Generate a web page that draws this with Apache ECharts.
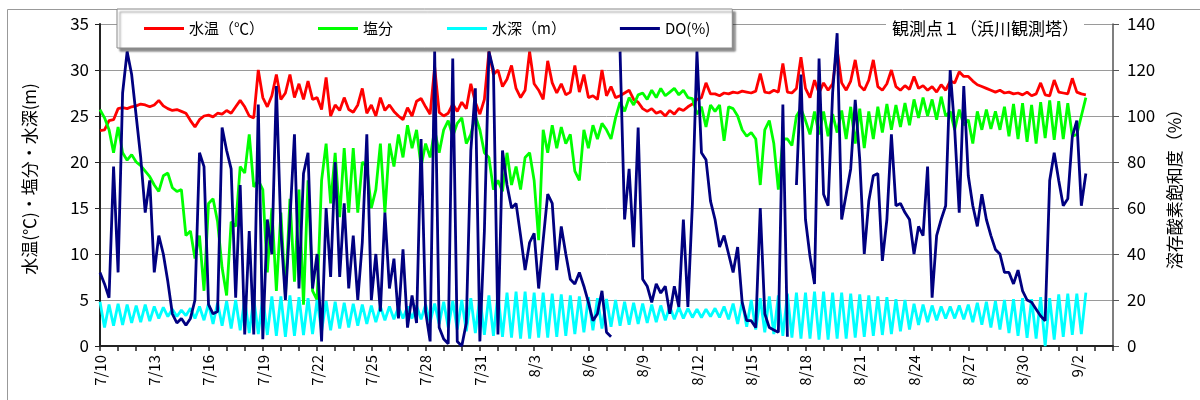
<!DOCTYPE html>
<html>
<head>
<meta charset="utf-8">
<title>観測点1（浜川観測塔）</title>
<script src="https://cdn.jsdelivr.net/npm/echarts@6/dist/echarts.min.js"></script>
<style>
  html, body { margin: 0; padding: 0; background: #fff; }
  #chart { width: 1200px; height: 400px; }
</style>
</head>
<body>
<div id="chart"></div>
<script>
// 7/10 0時から6時間ごとの値（1行 = 1日分）
const STEP = 0.25
const dateLabels = ['7/10', '7/13', '7/16', '7/19', '7/22', '7/25', '7/28', '7/31', '8/3', '8/6',
    '8/9', '8/12', '8/15', '8/18', '8/21', '8/24', '8/27', '8/30', '9/2']

// 水温(℃)
const waterTemp = [
    23.4, 23.5, 24.5, 24.6,  25.8, 25.9, 25.8, 26.0,  26.1, 26.3, 26.2, 26.0,  26.2, 26.7, 26.1, 25.8,
    25.6, 25.7, 25.5, 25.3,  24.5, 23.8, 24.6, 25.0,  25.1, 24.9, 25.3, 25.2,  25.6, 25.3, 26.0, 26.7,
    26.0, 25.0, 24.8, 30.0,  27.0, 26.0, 27.2, 29.5,  26.8, 27.5, 29.5, 27.0,  28.5, 26.8, 28.8, 26.8,
    27.0, 25.7, 29.2, 25.0,  26.2, 25.6, 27.0, 25.7,  25.4, 26.2, 28.0, 25.3,  26.2, 25.0, 27.0, 25.6,
    26.2, 25.5, 25.0, 24.6,  25.9, 25.0, 26.6, 26.9,  26.0, 25.2, 30.3, 25.4,  25.0, 25.3, 26.3, 25.5,
    26.5, 25.8, 28.5, 26.5,  25.2, 26.8, 32.0, 29.5,  30.0, 28.2, 29.0, 30.5,  28.0, 27.0, 27.8, 32.0,
    28.5, 27.8, 26.8, 31.0,  28.6, 27.5, 28.5, 27.3,  27.6, 30.5, 27.6, 29.5,  27.0, 27.2, 26.8, 30.0,
    27.2, 28.2, 27.0, 27.2,  27.5, 27.8, 26.8, 26.5,  25.8, 25.5, 25.8, 25.3,  25.5, 25.0, 25.6, 25.2,
    25.8, 25.6, 26.0, 26.3,  26.8, 27.0, 28.6, 27.4,  27.4, 27.2, 27.5, 27.4,  27.6, 27.5, 27.7, 27.6,
    27.5, 27.7, 29.6, 27.6,  27.5, 27.8, 27.6, 30.7,  27.6, 27.5, 28.0, 31.4,  28.0, 27.0, 28.9, 27.5,
    28.6, 27.8, 28.5, 32.2,  28.6, 27.8, 28.8, 31.1,  28.3, 27.8, 28.9, 31.1,  28.2, 27.8, 28.5, 30.0,
    28.2, 27.8, 28.3, 27.9,  29.3, 28.0, 28.3, 27.8,  28.2, 27.6, 28.4, 27.8,  28.8, 28.6, 29.8, 29.3,
    29.3, 28.8, 28.4, 28.2,  28.0, 27.8, 27.6, 27.8,  27.5, 27.6, 27.4, 27.5,  27.3, 27.6, 27.2, 27.4,
    28.6, 27.3, 27.2, 28.9,  27.6, 27.5, 27.4, 29.1,  27.6, 27.4, 27.3
]

// 塩分
const salinity = [
    25.7, 24.8, 23.5, 21.0,  23.8, 21.0, 20.2, 20.8,  20.0, 19.6, 19.0, 18.4,  17.5, 16.8, 18.5, 18.8,
    17.2, 16.8, 17.0, 12.0,  12.5, 9.5, 12.0, 6.0,   15.5, 16.0, 13.5, 8.5,   5.5, 13.5, 13.0, 19.5,
    18.8, 23.0, 17.3, 18.0,  17.0, 8.0, 15.0, 6.0,   14.5, 5.5, 16.0, 7.0,   17.0, 4.5, 18.0, 6.0,
    5.0, 18.0, 22.0, 15.5,   21.0, 14.0, 21.5, 14.5,  21.5, 14.5, 20.0, 19.5,  15.0, 17.0, 22.0, 14.5,
    22.0, 19.5, 23.0, 20.5,  24.0, 21.5, 23.5, 19.5,  22.0, 20.5, 23.5, 21.0,  23.5, 24.5, 22.8, 24.2,
    24.8, 22.0, 23.0, 25.0,  23.5, 21.0, 20.5, 17.0,  18.0, 16.8, 21.0, 17.5,  19.5, 17.0, 20.5, 21.0,
    18.0, 11.5, 23.5, 21.0,  24.0, 21.5, 23.8, 22.0,  23.0, 19.0, 18.0, 23.5,  21.5, 24.0, 22.5, 24.2,
    23.5, 22.5, 24.8, 26.5,  25.5, 27.0, 26.2, 27.3,  27.5, 26.8, 27.8, 27.0,  28.0, 27.2, 27.6, 28.0,
    27.3, 27.8, 27.0, 26.9,  25.2, 26.0, 23.8, 26.2,  25.5, 26.2, 22.3, 26.0,  25.8, 25.0, 23.5, 22.8,
    23.2, 22.5, 17.5, 23.5,  24.5, 22.0, 17.0, 22.5,  22.5, 21.8, 25.0, 25.8,  24.5, 23.0, 25.5, 23.0,
    25.5, 22.8, 25.2, 23.2,  25.6, 22.5, 26.0, 22.0,  25.8, 21.5, 25.5, 22.5,  26.0, 23.2, 26.3, 23.5,
    26.2, 23.8, 26.4, 24.0,  26.8, 24.8, 27.0, 25.0,  26.8, 24.6, 27.1, 25.0,  25.5, 23.5, 25.7, 24.0,
    24.6, 22.0, 25.5, 23.5,  25.7, 23.6, 25.5, 23.5,  26.0, 22.8, 26.3, 22.5,  26.4, 22.2, 26.2, 22.0,
    26.5, 22.6, 26.7, 22.4,  26.6, 22.5, 26.4, 22.8,  23.0, 25.0, 27.0
]

// 水深(m)
const depth = [
    4.8, 2.0, 4.5, 2.2,  4.6, 2.3, 4.5, 2.5,  4.4, 2.6, 4.5, 2.7,  4.3, 3.0, 4.2, 3.2,
    4.0, 3.2, 3.9, 3.3,  4.1, 3.0, 4.3, 2.8,  4.6, 2.4, 4.7, 2.2,  4.9, 1.9, 5.0, 1.7,
    5.1, 1.4, 5.2, 1.3,  5.3, 1.2, 5.4, 1.1,  5.4, 1.0, 5.5, 1.1,  5.3, 1.2, 5.2, 1.3,
    5.0, 1.6, 4.9, 1.7,  4.8, 1.9, 4.7, 2.0,  4.6, 2.2, 4.5, 2.4,  4.4, 2.6, 4.3, 2.8,
    4.3, 2.9, 4.2, 3.0,  4.3, 3.0, 4.4, 2.9,  4.5, 2.6, 4.6, 2.4,  4.8, 2.0, 4.9, 1.8,
    5.0, 1.6, 5.2, 1.4,  5.4, 1.2, 5.5, 1.1,  5.7, 1.0, 5.8, 0.9,  5.9, 0.8, 5.9, 0.8,
    5.8, 0.9, 5.8, 0.9,  5.7, 1.0, 5.6, 1.1,  5.5, 1.3, 5.4, 1.5,  5.3, 1.7, 5.2, 1.9,
    5.1, 2.1, 5.0, 2.2,  4.8, 2.3, 4.7, 2.4,  4.6, 2.5, 4.5, 2.6,  4.4, 2.8, 4.3, 2.9,
    4.2, 3.0, 4.1, 3.1,  4.0, 3.1, 4.0, 3.2,  4.1, 3.1, 4.3, 2.9,  4.6, 2.4, 4.8, 2.1,
    5.0, 1.8, 5.2, 1.5,  5.4, 1.3, 5.5, 1.1,  5.7, 0.9, 5.8, 0.8,  5.8, 0.8, 5.9, 0.7,
    5.9, 0.7, 5.8, 0.8,  5.8, 0.8, 5.7, 0.9,  5.6, 1.0, 5.5, 1.1,  5.4, 1.2, 5.3, 1.3,
    5.1, 1.6, 5.0, 1.8,  4.6, 2.3, 4.5, 2.6,  4.4, 2.8, 4.3, 3.0,  4.3, 3.0, 4.4, 2.9,
    4.5, 2.6, 4.7, 2.3,  4.8, 2.0, 4.9, 1.8,  5.0, 1.4, 5.1, 1.1,  5.2, 0.9, 5.1, 0.8,
    5.3, 0.0, 5.2, 0.7,  5.6, 1.0, 5.7, 1.2,  5.7, 1.3, 5.8
]

// DO(%) 溶存酸素飽和度、null は欠測
const doSat = [
    32, 27, 21, 78,    32, 110, 128, 118,  100, 82, 58, 72,   32, 48, 40, 28,
    14, 10, 12, 9,     12, 20, 84, 78,     18, 14, 15, 95,    85, 77, 21, 70,
    5, 50, 5, 105,     3, 55, 40, 113,     50, 20, 55, 92,    25, 75, 84, 25,
    40, 2, 60, 30,     80, 30, 62, 25,     48, 20, 45, 92,    20, 40, 15, 58,
    25, 38, 12, 42,    8, 22, 10, 90,      15, 2, 128, 8,     3, 1, 125, 2,
    0, 10, 85, 112,    2, 50, 128, 120,    5, 85, 70, 60,     62, 48, 33, 45,
    49, 25, 46, 66,    62, 33, 52, 40,     29, 27, 32, 26,    19, 11, 14, 24,
    6, 4, null, 128,   55, 77, 43, 95,     29, 26, 19, 27,    23, 26, 14, 26,
    17, 55, 17, 62,    128, 84, 81, 63,    55, 43, 48, 40,    32, 43, 19, 11,
    11, 8, 60, 14,     8, 7, 6, 105,       4, null, 70, 118,  55, 39, 27, 125,
    66, 61, 110, 136,  55, 66, 77, 107,    81, 40, 63, 74,    75, 37, 55, 92,
    61, 62, 58, 55,    40, 52, 48, 78,     21, 48, 55, 61,    120, 94, 58, 113,
    74, 61, 52, 66,    55, 48, 42, 40,     32, 32, 27, 33,    24, 20, 19, 16,
    13, 11, 72, 84,    72, 61, 64, 91,     98, 61, 75
]

function toPoints (values) {
    return values.map(function (v, i) { return [i * STEP, v] })
}

const FONT = '"Noto Sans CJK JP", "Noto Sans", sans-serif'
const chart = echarts.init(document.getElementById('chart'), null, { renderer: 'canvas' })

const lineSeries = function (name, values, color, axis) {
    return {
        name: name,
        type: 'line',
        yAxisIndex: axis,
        data: toPoints(values),
        showSymbol: false,
        symbol: 'none',
        connectNulls: false,
        lineStyle: { color: color, width: 2.8 },
        itemStyle: { color: color },
        emphasis: { disabled: true }
    }
}

const option = {
    animation: false,
    backgroundColor: '#fff',
    textStyle: { fontFamily: FONT, color: '#000' },
    graphic: [{
        type: 'rect',
        shape: { x: 7.5, y: 9.5, width: 1200, height: 400 },
        style: { fill: 'none', stroke: '#999', lineWidth: 1 },
        z: -10
    }],
    title: {
        text: '観測点１（浜川観測塔）',
        left: 886,
        top: 16,
        padding: [4, 5, 4, 6],
        backgroundColor: '#fff',
        textStyle: { fontFamily: FONT, fontSize: 17, fontWeight: 'normal', color: '#000' }
    },
    legend: {
        left: 117,
        top: 9,
        padding: [12, 22, 12, 27],
        itemGap: 54,
        itemWidth: 40,
        itemHeight: 3,
        icon: 'rect',
        backgroundColor: '#fff',
        borderColor: '#888',
        borderWidth: 1,
        shadowColor: 'rgba(0,0,0,0.45)',
        shadowOffsetX: 3,
        shadowOffsetY: 3,
        shadowBlur: 2,
        textStyle: { fontFamily: FONT, fontSize: 15, color: '#000' },
        data: ['水温（℃）', '塩分', '水深（m）', 'DO(%)']
    },
    grid: {
        left: 100,
        right: 87,
        top: 24,
        bottom: 54,
        containLabel: false,
        outerBoundsMode: 'none'
    },
    xAxis: {
        type: 'value',
        min: 0,
        max: 56,
        interval: 1,
        axisLine: { show: true, onZero: false, lineStyle: { color: '#222', width: 2 } },
        axisTick: { show: true, inside: false, length: 5, lineStyle: { color: '#222', width: 1.5 } },
        splitLine: { show: false },
        axisLabel: {
            rotate: 90,
            margin: 9,
            fontSize: 15,
            color: '#000',
            fontFamily: FONT,
            formatter: function (v) {
                return v % 3 === 0 ? (dateLabels[v / 3] || '') : ''
            }
        }
    },
    yAxis: [{
        type: 'value',
        min: 0,
        max: 35,
        interval: 5,
        name: '水温(℃)・塩分・水深(m)',
        nameLocation: 'middle',
        nameRotate: 90,
        nameGap: 62,
        nameTextStyle: { fontFamily: FONT, fontSize: 17, color: '#000', padding: [0, 0, 0, 12] },
        axisLine: { show: true, lineStyle: { color: '#222', width: 2 } },
        axisTick: { show: true, inside: false, length: 5, lineStyle: { color: '#222' } },
        splitLine: { show: true, lineStyle: { color: '#9a9a9a', width: 1 } },
        axisLabel: { margin: 11, fontSize: 17, color: '#000', fontFamily: FONT }
    }, {
        type: 'value',
        min: 0,
        max: 140,
        interval: 20,
        position: 'right',
        name: '溶存酸素飽和度（%）',
        nameLocation: 'middle',
        nameRotate: 90,
        nameGap: 52,
        nameTextStyle: { fontFamily: FONT, fontSize: 17, color: '#000' },
        axisLine: { show: true, lineStyle: { color: '#555', width: 1.5 } },
        axisTick: { show: true, inside: false, length: 6, lineStyle: { color: '#555' } },
        splitLine: { show: false },
        axisLabel: { margin: 14, fontSize: 17, color: '#000', fontFamily: FONT }
    }],
    series: [
        lineSeries('水温（℃）', waterTemp, '#ff0000', 0),
        lineSeries('塩分', salinity, '#00ff00', 0),
        lineSeries('水深（m）', depth, '#00ffff', 0),
        lineSeries('DO(%)', doSat, '#000080', 1)
    ]
}

chart.setOption(option)
</script>
</body>
</html>
